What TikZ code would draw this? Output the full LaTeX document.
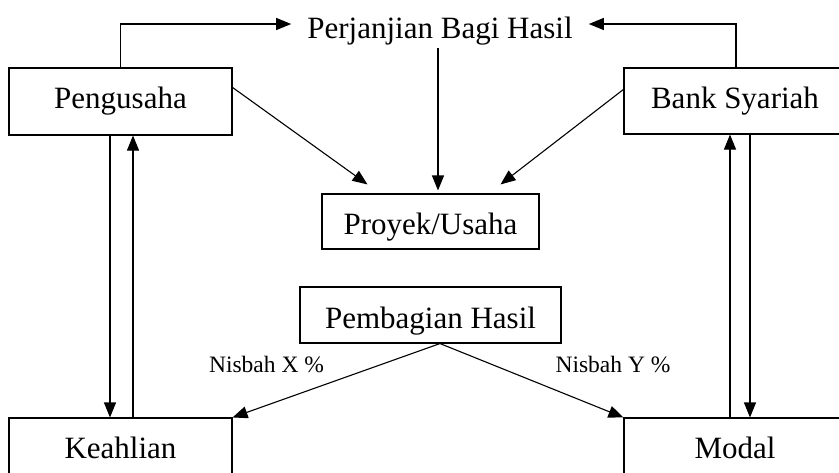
\documentclass[tikz,border=0pt]{standalone}
\usepackage{fontspec}
\setmainfont{Liberation Serif}
\usetikzlibrary{arrows.meta}
\tikzset{
  kotak/.style={draw,line width=1.1pt,inner sep=0pt,text height=21.2pt,text depth=6.7pt,
    font=\fontsize{31}{36}\selectfont},
  turun/.style={text height=27.3pt,text depth=0.6pt},
  panah/.style={->,line width=1.1pt},
  nisbah/.style={inner sep=0pt,font=\fontsize{23.5}{28}\selectfont}
}
\begin{document}
\begin{tikzpicture}[x=1pt,y=-1pt,>={Triangle[length=15pt,width=12pt]}]
\useasboundingbox (0,0) rectangle (839,472);
\clip (0,0) rectangle (839,472);
% kotak
\node[inner xsep=16pt,inner ysep=10pt,text height=28pt,text depth=0pt,
  font=\fontsize{31}{36}\selectfont] (perjanjian) at (440,24) {Perjanjian Bagi Hasil};
\node[kotak,minimum width=223pt,minimum height=67pt] (pengusaha) at (120.5,101.5) {Pengusaha};
\node[kotak,minimum width=222pt,minimum height=66pt] (bank) at (735,101) {Bank Syariah};
\node[kotak,turun,minimum width=217pt,minimum height=55pt] (proyek) at (430.5,221.5) {Proyek/Usaha};
\node[kotak,turun,minimum width=261pt,minimum height=56pt] (pembagian) at (430.5,315) {Pembagian Hasil};
\node[kotak,minimum width=223pt,minimum height=67pt] (keahlian) at (120.5,451.5) {Keahlian};
\node[kotak,minimum width=222pt,minimum height=67pt] (modal) at (735,451.5) {Modal};
\node[nisbah] (nisbahx) at (266.5,364) {Nisbah X \%};
\node[nisbah] (nisbahy) at (613,364) {Nisbah Y \%};
% panah atas
\draw[panah] (pengusaha.north) |- (perjanjian.west);
\draw[panah] ([xshift=1pt]bank.north) |- (perjanjian.east);
\draw[panah] ([xshift=-2pt]perjanjian.south) -- ([xshift=-2pt,yshift=3pt]perjanjian.south |- proyek.north);
\draw[panah] ([yshift=-20pt]pengusaha.north east) -- ([xshift=-63pt,yshift=9pt]proyek.north);
\draw[panah] ([yshift=-22pt]bank.north west) -- ([xshift=70pt,yshift=9pt]proyek.north);
% panah samping
\draw[panah] ([xshift=-10.5pt]pengusaha.south) -- ([xshift=-10.5pt]pengusaha.south |- keahlian.north);
\draw[panah] ([xshift=12.5pt]keahlian.north) -- ([xshift=12.5pt]keahlian.north |- pengusaha.south);
\draw[panah] ([xshift=-5pt]modal.north) -- ([xshift=-5pt]modal.north |- bank.south);
\draw[panah] ([xshift=15pt]bank.south) -- ([xshift=15pt]bank.south |- modal.north);
% panah bawah
\draw[panah] ([xshift=9.5pt]pembagian.south) -- (keahlian.north east);
\draw[panah] ([xshift=9.5pt]pembagian.south) -- (modal.north west);
\end{tikzpicture}
\end{document}
